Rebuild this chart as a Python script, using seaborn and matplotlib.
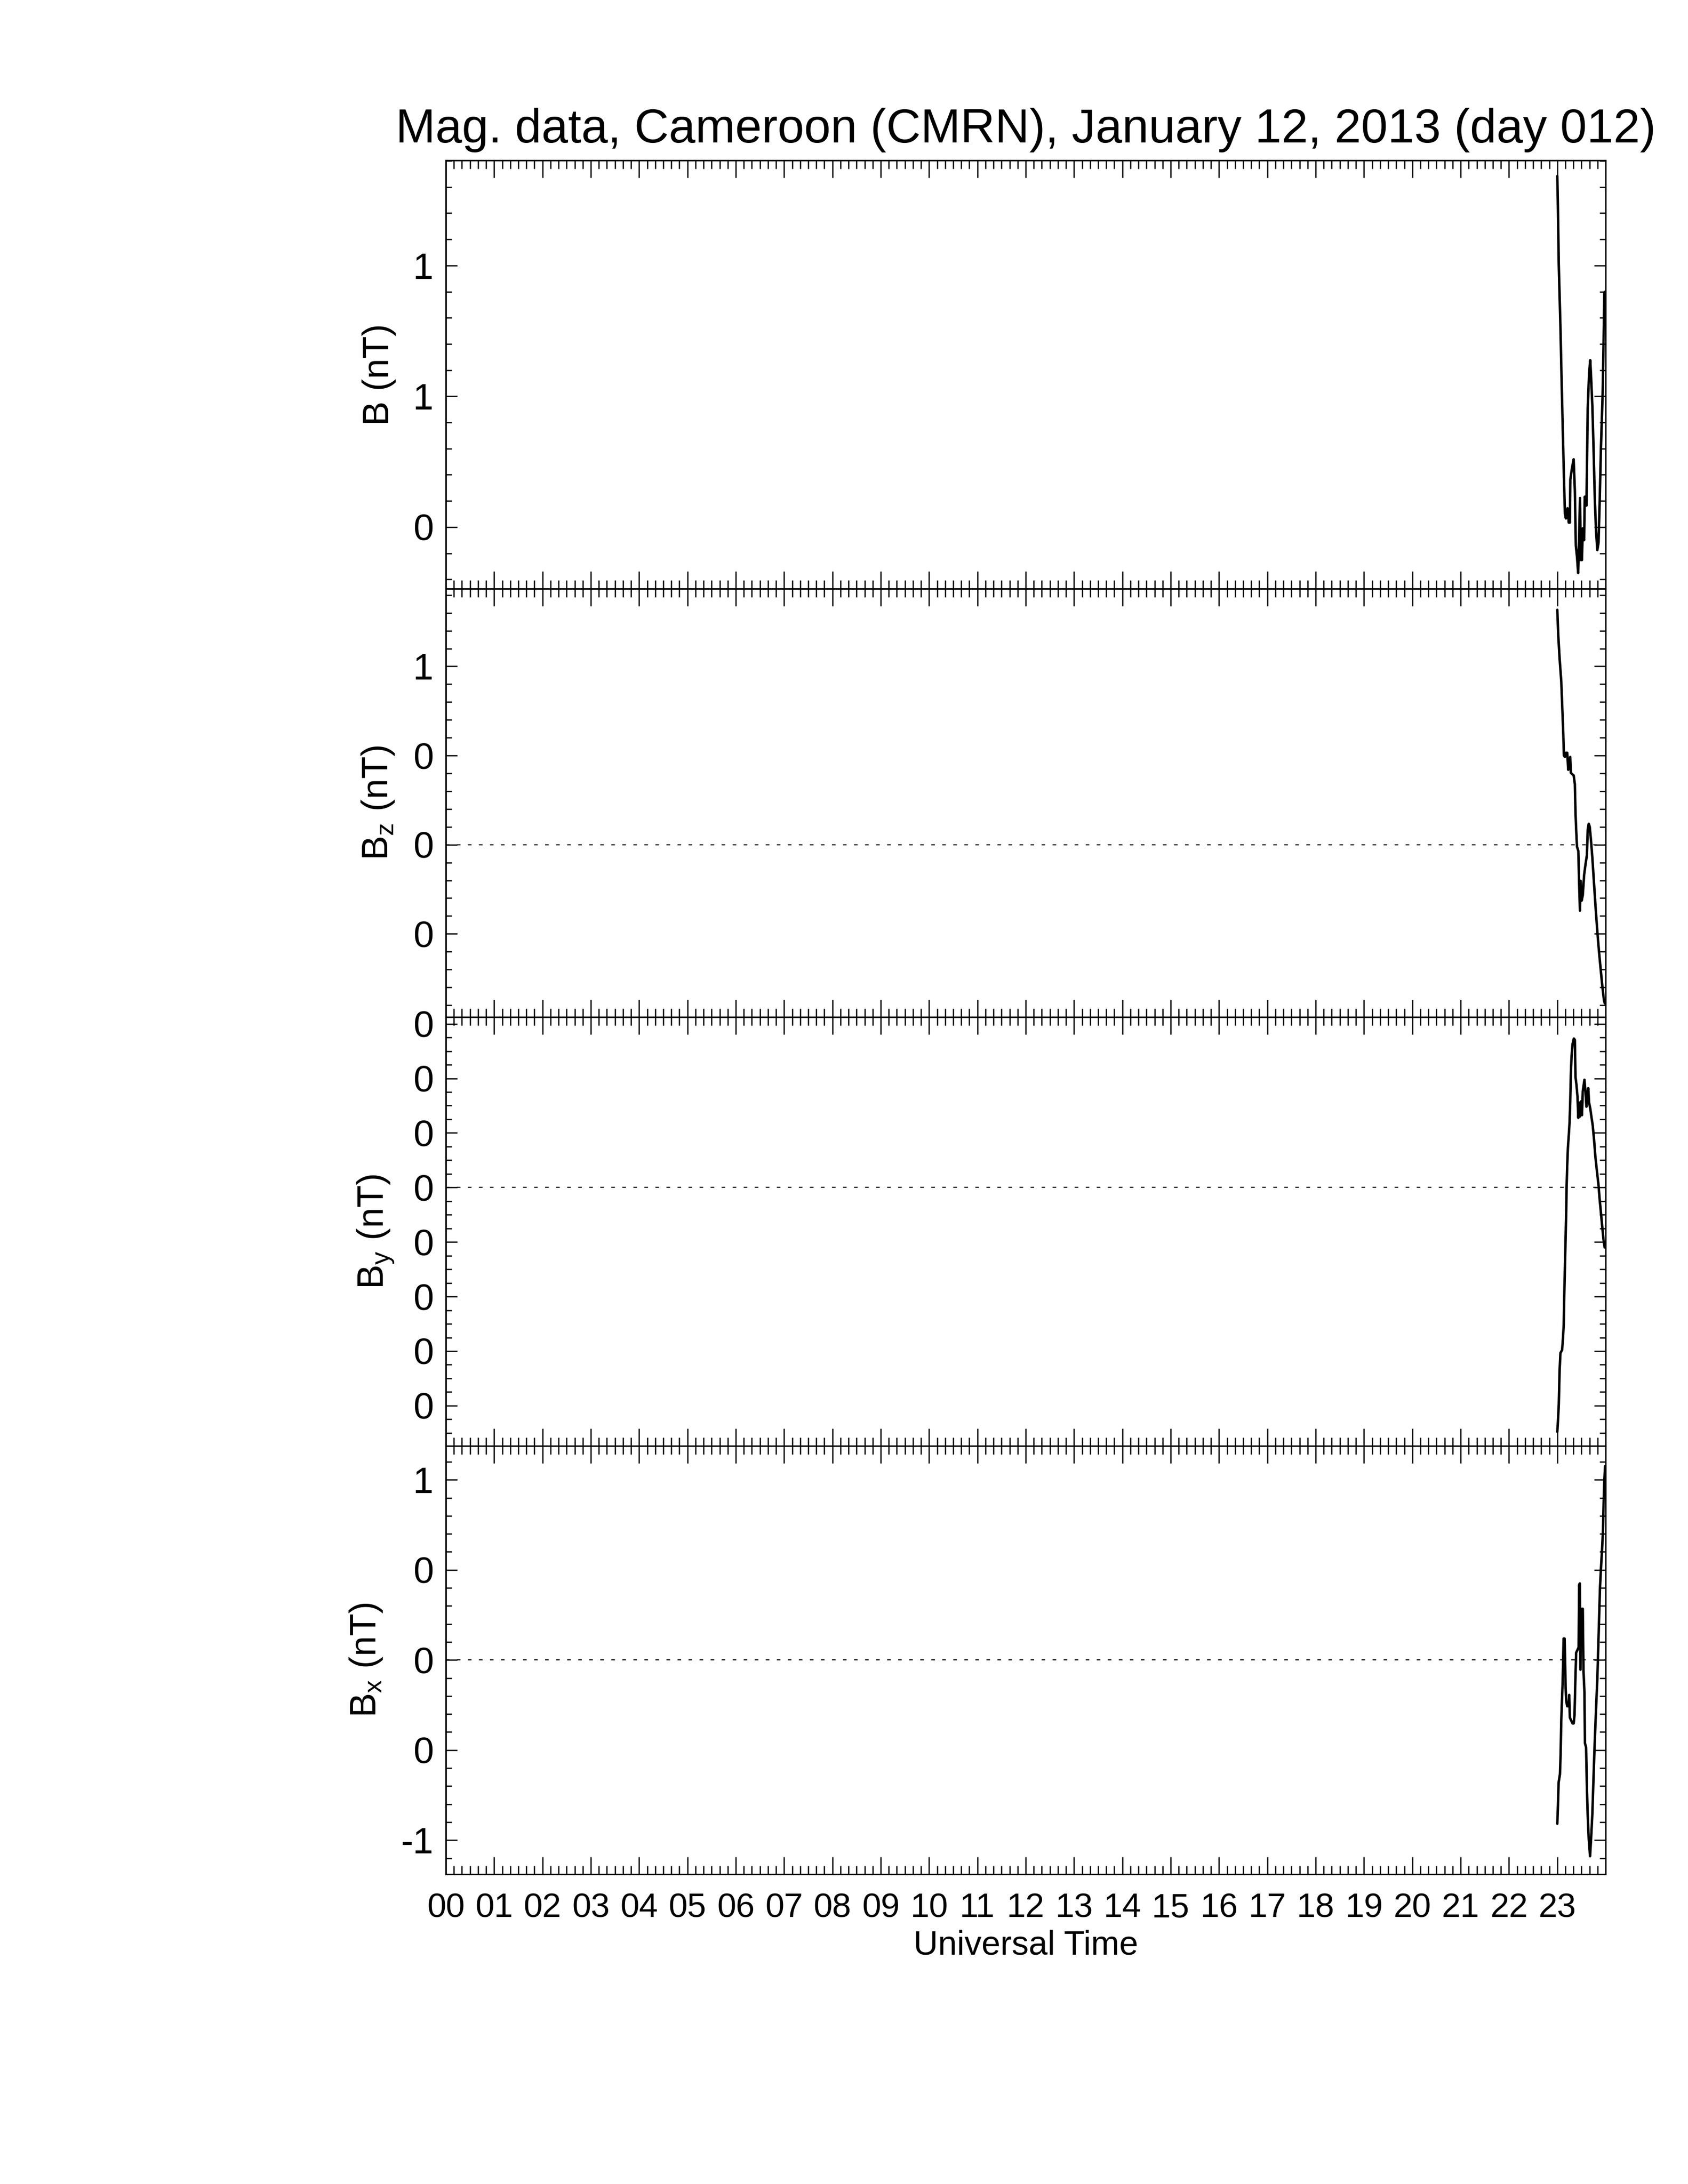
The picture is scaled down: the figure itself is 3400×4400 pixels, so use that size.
import numpy as np
import pandas as pd
import matplotlib
matplotlib.use("Agg")
import matplotlib.pyplot as plt
from matplotlib.ticker import MultipleLocator
import seaborn as sns

# minutes after 23:00 UT and field values
t_b = [0, 0.8, 1.8, 3.9, 5.3, 7.0, 8.6, 9.5, 10.7, 12.7, 14.2, 15.6, 16.2, 18.3, 20.3,
       21.8, 23.0, 24.5, 25.9, 27.1, 28.2, 29.2, 30.6, 31.6, 33.3, 34.1, 36.2, 37.8,
       39.5, 40.9, 41.9, 43.6, 45.0, 46.6, 48.1, 49.7, 51.2, 52.6, 54.2, 56.3, 57.3,
       58.4, 59.6]
b_tot = [1.842, 1.716, 1.506, 1.264, 1.067, 0.847, 0.649, 0.55, 0.533, 0.572, 0.517,
         0.517, 0.682, 0.726, 0.759, 0.638, 0.429, 0.385, 0.324, 0.462, 0.611, 0.374,
         0.374, 0.495, 0.45, 0.616, 0.582, 0.957, 1.089, 1.138, 1.078, 0.957, 0.803,
         0.605, 0.484, 0.412, 0.44, 0.594, 0.803, 1.011, 1.176, 1.397, 1.4]

t_bz = [0, 1.23, 2.88, 4.93, 6.16, 7.40, 8.22, 9.45, 10.68, 12.33, 13.56, 14.79, 16.03,
        16.85, 18.29, 20.34, 21.78, 22.60, 23.42, 24.45, 26.10, 27.12, 28.15, 28.97,
        30.21, 31.64, 33.29, 34.93, 36.78, 37.81, 39.04, 40.27, 41.92, 43.56, 45.62,
        47.67, 49.73, 51.78, 53.84, 55.89, 57.95, 58.97]
bz = [1.317, 1.171, 1.043, 0.915, 0.771, 0.627, 0.500, 0.492, 0.515, 0.515, 0.42, 0.467,
      0.492, 0.403, 0.396, 0.388, 0.34, 0.18, 0.085, -0.011, -0.035, -0.219, -0.37,
      -0.203, -0.314, -0.283, -0.171, -0.114, -0.058, 0.085, 0.117, 0.1, 0.02, -0.075,
      -0.219, -0.361, -0.489, -0.6, -0.698, -0.793, -0.873, -0.89]

t_by = [0, 0.82, 1.85, 2.88, 3.90, 5.96, 6.99, 8.01, 8.63, 9.45, 10.27, 11.10, 11.51,
        12.33, 13.15, 14.38, 15.21, 16.03, 16.85, 17.67, 18.90, 20.55, 21.78, 22.60,
        23.84, 25.07, 26.10, 27.12, 28.15, 29.59, 30.62, 31.64, 33.70, 34.93, 36.16,
        37.40, 38.42, 39.45, 40.89, 42.33, 43.97, 45.62, 47.26, 49.11, 51.16, 52.60,
        54.25, 55.89, 57.33, 58.77]
by = [-0.896, -0.857, -0.795, -0.669, -0.607, -0.596, -0.555, -0.503, -0.398, -0.294,
      -0.19, -0.085, -0.002, 0.082, 0.145, 0.197, 0.238, 0.311, 0.416, 0.478, 0.525,
      0.546, 0.541, 0.405, 0.375, 0.333, 0.255, 0.311, 0.26, 0.316, 0.265, 0.353, 0.395,
      0.353, 0.296, 0.343, 0.364, 0.311, 0.29, 0.26, 0.228, 0.176, 0.113, 0.062, 0.009,
      -0.044, -0.095, -0.147, -0.19, -0.22]

t_bx = [0, 0.82, 1.64, 3.29, 4.11, 4.93, 5.75, 6.58, 7.19, 7.81, 9.04, 9.66, 10.27,
        11.10, 12.33, 13.97, 14.79, 15.62, 17.26, 18.90, 20.34, 21.37, 22.40, 23.42,
        25.07, 26.51, 27.12, 27.95, 28.77, 29.59, 30.41, 31.64, 32.47, 33.70, 34.32,
        35.75, 36.78, 37.81, 39.04, 40.68, 41.92, 43.56, 45.00, 46.44, 48.08, 49.73,
        50.55, 51.78, 53.01, 54.25, 55.48, 56.71, 57.53, 58.36, 59.38]
bx = [-0.909, -0.806, -0.68, -0.634, -0.524, -0.336, -0.227, -0.131, -0.022, 0.119,
      0.119, 0.008, -0.148, -0.227, -0.257, -0.257, -0.194, -0.32, -0.336, -0.352,
      -0.352, -0.305, -0.116, 0.041, 0.056, 0.071, 0.417, 0.425, -0.054, 0.276, 0.284,
      0.284, -0.054, -0.179, -0.461, -0.485, -0.713, -0.869, -0.994, -1.089, -0.994,
      -0.852, -0.65, -0.461, -0.273, -0.101, 0.025, 0.213, 0.402, 0.511, 0.605, 0.716,
      0.872, 0.997, 1.076]

# axis ticks and the (integer formatted) labels as printed on the plot
yticks_b = [0.5, 1.0, 1.5]
ylabels_b = ["0", "1", "1"]
yticks_bz = [-0.5, 0.0, 0.5, 1.0]
ylabels_bz = ["0", "0", "0", "1"]
yticks_by = [-0.8, -0.6, -0.4, -0.2, 0.0, 0.2, 0.4, 0.6]
ylabels_by = ["0", "0", "0", "0", "0", "0", "0", "0"]
yticks_bx = [-1.0, -0.5, 0.0, 0.5, 1.0]
ylabels_bx = ["-1", "0", "0", "0", "1"]
hours = list(range(24))
hour_labels = ["%02d" % h for h in hours]

title = "Mag. data, Cameroon (CMRN), January 12, 2013 (day 012)"

sns.set_theme(style="ticks")
plt.rcParams["font.family"] = ["Liberation Sans", "DejaVu Sans"]
plt.rcParams["mathtext.fontset"] = "custom"
plt.rcParams["mathtext.rm"] = "Liberation Sans"
plt.rcParams["lines.scale_dashes"] = False
plt.rcParams["axes.linewidth"] = 0.55
plt.rcParams["axes.edgecolor"] = "black"
plt.rcParams["text.color"] = "black"
plt.rcParams["axes.labelcolor"] = "black"
plt.rcParams["xtick.color"] = "black"
plt.rcParams["ytick.color"] = "black"

panels = [
    (r"B (nT)", t_b, b_tot, (0.264, 1.902), yticks_b, ylabels_b, 0.1, False),
    (r"B$_\mathregular{z}$ (nT)", t_bz, bz, (-0.968, 1.435), yticks_bz, ylabels_bz, 0.1, True),
    (r"B$_\mathregular{y}$ (nT)", t_by, by, (-0.947, 0.624), yticks_by, ylabels_by, 0.05, True),
    (r"B$_\mathregular{x}$ (nT)", t_bx, bx, (-1.189, 1.189), yticks_bx, ylabels_bx, 0.1, True),
]

fig = plt.figure(figsize=(8.5, 11), dpi=400)
left, width = 0.2641, 0.6871
top, h = 0.9266, 0.19619

axes = []
for i, (lab, t, v, ylim, yt, yl, minor, zero) in enumerate(panels):
    ax = fig.add_axes([left, top - (i + 1) * h, width, h])
    df = pd.DataFrame({"ut": 23 + np.array(t) / 60.0, "val": v})
    sns.lineplot(data=df, x="ut", y="val", ax=ax, color="black", lw=0.9,
                 estimator=None, sort=False)
    if zero:
        ax.axhline(0, color="black", lw=0.4, dashes=(1.3, 2.7))
    ax.set_xlim(0, 24)
    ax.set_ylim(*ylim)
    ax.set_xticks(hours)
    ax.xaxis.set_minor_locator(MultipleLocator(1 / 6))
    ax.set_yticks(yt, yl)
    ax.yaxis.set_minor_locator(MultipleLocator(minor))
    ax.tick_params(which="both", direction="in", top=True, right=True,
                   width=0.45, color="black")
    ax.tick_params(axis="x", which="major", length=6.3, pad=6.5, labelsize=12.3)
    ax.tick_params(axis="x", which="minor", length=3.1)
    ax.tick_params(axis="y", which="major", length=4.2, pad=4.5, labelsize=13.3)
    ax.tick_params(axis="y", which="minor", length=2.2)
    ax.set_ylabel(lab, fontsize=13.3, labelpad=6)
    if i < 3:
        ax.set_xticklabels([])
        ax.set_xlabel("")
    else:
        ax.set_xticklabels(hour_labels)
        ax.set_xlabel("Universal Time", fontsize=12.3, labelpad=2)
    for s in ax.spines.values():
        s.set_visible(True)
        s.set_linewidth(0.55)
    axes.append(ax)

axes[0].set_title(title, fontsize=17.3, pad=6.5)

fig.savefig("out.png", dpi=400, facecolor="white")
